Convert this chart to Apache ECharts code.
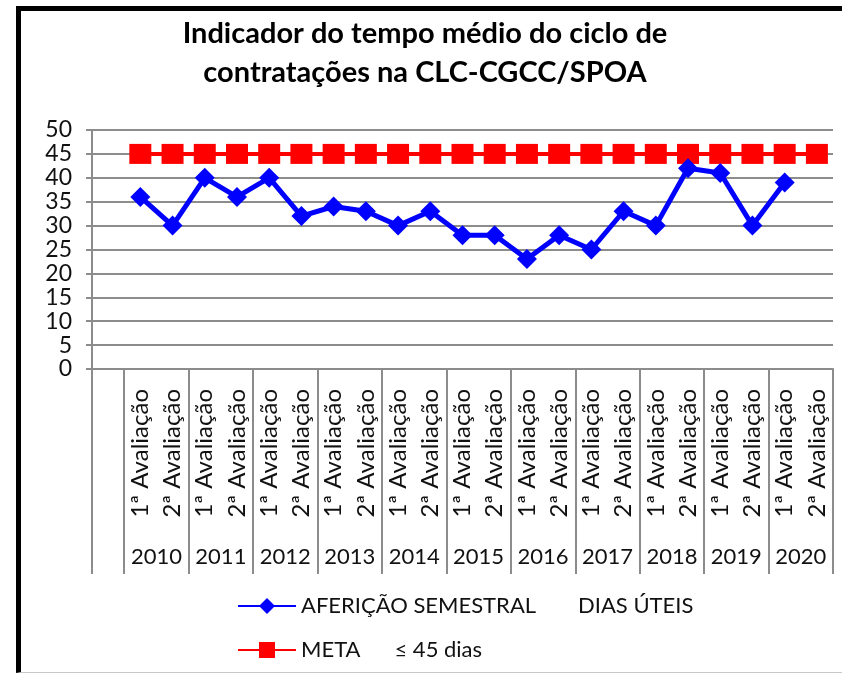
<!DOCTYPE html>
<html lang="pt-BR">
<head>
    <meta charset="UTF-8">
    <title>Indicador do tempo médio do ciclo de contratações</title>
    <style>
        html, body { margin: 0; padding: 0; background: #fff; }
        #frame {
            position: absolute; left: 16px; top: 6px; width: 826px; height: 667px;
            border-left: 5px solid #000; border-top: 5px solid #000;
            border-bottom: 1px solid #c8c8c8; box-sizing: border-box;
        }
        #chart { position: absolute; left: 0; top: 0; width: 842px; height: 673px; }
    </style>
</head>
<body>
    <div id="frame"></div>
    <div id="chart"></div>

    <script src="https://cdn.jsdelivr.net/npm/echarts@6.0.0/dist/echarts.min.js"></script>
    <script>
        // dados
        const years = ['2010', '2011', '2012', '2013', '2014', '2015', '2016', '2017', '2018', '2019', '2020'];
        const semesters = ['1ª Avaliação', '2ª Avaliação'];
        const afericao = [36, 30, 40, 36, 40, 32, 34, 33, 30, 33, 28, 28, 23, 28, 25, 33, 30, 42, 41, 30, 39, null];
        const meta = [45, 45, 45, 45, 45, 45, 45, 45, 45, 45, 45, 45, 45, 45, 45, 45, 45, 45, 45, 45, 45, 45];
        const yTicks = { min: 0, max: 50, step: 5 };
        const seriesNames = ['AFERIÇÃO SEMESTRAL', 'META'];
        const seriesUnits = ['DIAS ÚTEIS', '≤ 45 dias'];

        // eixo: uma coluna vazia antes de 2010
        const categories = [''];
        years.forEach(() => semesters.forEach(s => categories.push(s)));
        const nCat = categories.length;

        const yearTicks = [0];
        const yearCenters = [];
        years.forEach((y, i) => {
            yearTicks.push(1 + 2 * i);
            yearCenters.push(2 + 2 * i);
        });
        yearTicks.push(nCat);

        const gray = '#8c8c8c';
        const font = 'Lato, "Open Sans", sans-serif';

        const chart = echarts.init(document.getElementById('chart'));
        chart.setOption({
            animation: false,
            title: {
                text: 'Indicador do tempo médio do ciclo de\ncontratações na CLC-CGCC/SPOA',
                left: 420,
                textAlign: 'center',
                top: 9,
                textStyle: { fontFamily: font, fontWeight: 'bold', fontSize: 29, lineHeight: 39, color: '#000' }
            },
            legend: {
                orient: 'vertical',
                left: 232,
                top: 590,
                itemWidth: 58,
                itemHeight: 20,
                itemGap: 22,
                data: seriesNames,
                formatter: name => {
                    const i = seriesNames.indexOf(name);
                    return name + (i === 0 ? '{g0|}' : '{g1|}') + seriesUnits[i];
                },
                textStyle: {
                    fontFamily: font, fontSize: 22, color: '#111',
                    rich: { g0: { width: 42 }, g1: { width: 34 } }
                }
            },
            grid: { left: 92, right: 9, top: 130, bottom: 304, containLabel: false },
            xAxis: [{
                type: 'category',
                data: categories,
                boundaryGap: true,
                axisLine: { lineStyle: { color: gray, width: 2 } },
                axisTick: { interval: 0, length: 155, lineStyle: { color: gray, width: 2 } },
                axisLabel: {
                    interval: 0, rotate: 90, margin: 20,
                    fontFamily: font, fontSize: 24, color: '#111'
                },
                splitLine: { show: false }
            }, {
                type: 'value',
                position: 'bottom',
                min: 0,
                max: nCat,
                axisLine: { show: false },
                splitLine: { show: false },
                axisTick: { customValues: yearTicks, length: 205, lineStyle: { color: gray, width: 2 } },
                axisLabel: {
                    customValues: yearCenters,
                    formatter: v => years[(v - 2) / 2],
                    margin: 177,
                    fontFamily: font, fontSize: 22, color: '#111'
                }
            }],
            yAxis: {
                type: 'value',
                min: yTicks.min,
                max: yTicks.max,
                interval: yTicks.step,
                axisLine: { show: true, lineStyle: { color: gray, width: 2 } },
                axisTick: { show: true, length: 6, lineStyle: { color: gray, width: 2 } },
                splitLine: { lineStyle: { color: gray, width: 2 } },
                axisLabel: { margin: 20, fontFamily: font, fontSize: 23, color: '#111' }
            },
            series: [{
                name: seriesNames[0],
                type: 'line',
                xAxisIndex: 0,
                data: [null].concat(afericao),
                symbol: 'diamond',
                symbolSize: 20,
                lineStyle: { color: '#0000ff', width: 5 },
                itemStyle: { color: '#0000ff' },
                z: 3
            }, {
                name: seriesNames[1],
                type: 'line',
                xAxisIndex: 0,
                data: [null].concat(meta),
                symbol: 'rect',
                symbolSize: [22, 20],
                lineStyle: { color: '#ff0000', width: 4 },
                itemStyle: { color: '#ff0000' },
                z: 2
            }]
        });
    </script>
</body>
</html>
